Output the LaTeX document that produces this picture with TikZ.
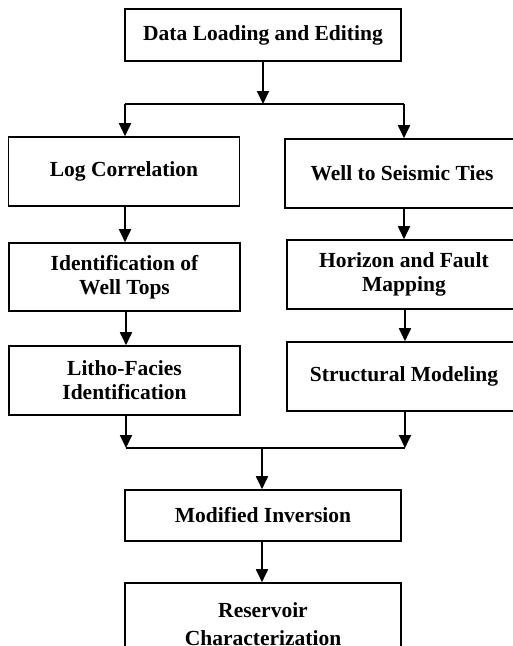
\documentclass[tikz,border=0pt]{standalone}
\usepackage{fontspec}
\setmainfont{Liberation Serif}
\usetikzlibrary{arrows.meta}
\begin{document}
\begin{tikzpicture}[x=1pt,y=-1pt,
  box/.style={draw,line width=1.6pt,inner sep=0pt,align=center,font=\fontsize{21.5}{24}\selectfont\bfseries},
  conn/.style={line width=1.8pt},
  arr/.style={line width=1.8pt,-{Triangle[width=12pt,length=13pt]}}]
\useasboundingbox (0,0) rectangle (512,646);
\node[box,minimum width=276pt,minimum height=52pt] (top) at (263,35) {Data Loading and Editing};
\node[box,minimum width=231pt,minimum height=69pt] (l1) at (124,171.5) {Log Correlation};
\node[box,minimum width=234pt,minimum height=69pt] (r1) at (402,173.5) {Well to Seismic Ties};
\node[box,minimum width=231pt,minimum height=68pt] (l2) at (124.5,277) {Identification of\\Well Tops};
\node[box,minimum width=234pt,minimum height=69pt] (r2) at (404,274.5) {Horizon and Fault\\Mapping};
\node[box,minimum width=231pt,minimum height=69pt] (l3) at (124.5,380.5) {Litho-Facies\\Identification};
\node[box,minimum width=234pt,minimum height=69pt] (r3) at (404,376.5) {Structural Modeling};
\node[box,minimum width=276pt,minimum height=51pt] (mi) at (263,515.5) {Modified Inversion};
\node[box,minimum width=276pt,minimum height=82pt,font=\fontsize{21.5}{28}\selectfont\bfseries] (rc) at (263,624) {Reservoir\\Characterization};
\coordinate (s1) at (263,104);
\coordinate (s1l) at (125,104);
\coordinate (s1r) at (404,104);
\coordinate (j2) at (262,448);
\coordinate (j2l) at (126,448);
\coordinate (j2r) at (405,448);
\draw[arr] (top.south) -- (s1);
\draw[conn] (s1l) -- (s1r);
\draw[arr] (s1l) -- (s1l |- l1.north);
\draw[arr] (s1r) -- (s1r |- r1.north);
\draw[arr] (l1.south -| s1l) -- (l2.north -| s1l);
\draw[arr] (r1.south -| s1r) -- (r2.north -| s1r);
\draw[arr] (l2.south -| j2l) -- (l3.north -| j2l);
\draw[arr] (r2.south -| j2r) -- (r3.north -| j2r);
\draw[arr] (l3.south -| j2l) -- (j2l);
\draw[arr] (r3.south -| j2r) -- (j2r);
\draw[conn] (j2l) -- (j2r);
\draw[arr] (j2) -- (j2 |- mi.north);
\draw[arr] (mi.south -| j2) -- (j2 |- rc.north);
\end{tikzpicture}
\end{document}
